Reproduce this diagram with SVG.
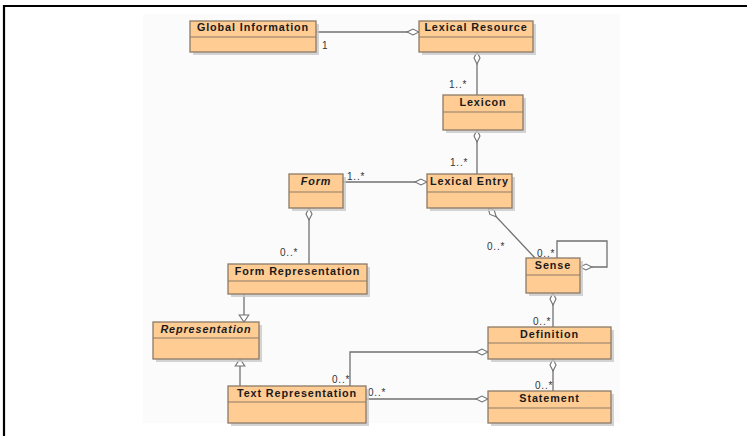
<svg xmlns="http://www.w3.org/2000/svg" width="747" height="436" viewBox="0 0 747 436">
<style>
.bg{fill:#fbfbfb}
.frame{fill:none;stroke:#000;stroke-width:2.2}
.shadow{fill:#c9c9c9;opacity:0.8}
.box{fill:#ffcc94;stroke:#8b7a66;stroke-width:1.3}
.div{stroke:#8b7a66;stroke-width:1.2}
.name{font-family:"Liberation Sans",Arial,sans-serif;font-weight:bold;font-size:10.8px;letter-spacing:0.9px;fill:#1a1a1a;text-anchor:middle}
.it{font-style:italic}
.conn path{fill:none;stroke:#707070;stroke-width:1.3}
.lbl{font-family:"Liberation Sans",Arial,sans-serif;font-size:10px;letter-spacing:0.8px;fill:#333}
</style>
<defs>
<marker id="agg" markerUnits="userSpaceOnUse" markerWidth="14" markerHeight="8" viewBox="-1 -4 14 8" refX="12" refY="0" orient="auto-start-reverse">
<path d="M0,0 L6,-3 L12,0 L6,3 Z" fill="#ffffff" stroke="#707070" stroke-width="1.1"/>
</marker>
<marker id="gen" markerUnits="userSpaceOnUse" markerWidth="11" markerHeight="12" viewBox="-1 -6 11 12" refX="7" refY="0" orient="auto">
<path d="M0,-4.8 L7,0 L0,4.8 Z" fill="#ffffff" stroke="#707070" stroke-width="1.1"/>
</marker>
</defs>
<rect class="bg" x="143" y="14" width="477" height="409"/>
<path class="frame" d="M4,436 V6 H747"/>

<g id="connectors" class="conn">
<path d="M316,32 H419" marker-end="url(#agg)"/>
<path d="M477,52 V95" marker-start="url(#agg)"/>
<path d="M477,130 V174" marker-start="url(#agg)"/>
<path d="M343,182 H427" marker-end="url(#agg)"/>
<path d="M309,208 V264" marker-start="url(#agg)"/>
<path d="M488,208 L535,258" marker-start="url(#agg)"/>
<path d="M557,258 V241 H607 V267 H580" marker-end="url(#agg)"/>
<path d="M553,293 V327" marker-start="url(#agg)"/>
<path d="M244,294 V322" marker-end="url(#gen)"/>
<path d="M240,386 V359" marker-end="url(#gen)"/>
<path d="M350,386 V352 H488" marker-end="url(#agg)"/>
<path d="M366,399 H488" marker-end="url(#agg)"/>
<path d="M553,359 V391" marker-start="url(#agg)"/>
</g>

<g id="labels">
<text class="lbl" x="322" y="49">1</text>
<text class="lbl" x="449" y="88">1..*</text>
<text class="lbl" x="450" y="166">1..*</text>
<text class="lbl" x="347" y="180">1..*</text>
<text class="lbl" x="280" y="256">0..*</text>
<text class="lbl" x="487" y="250">0..*</text>
<text class="lbl" x="537" y="257">0..*</text>
<text class="lbl" x="533" y="325">0..*</text>
<text class="lbl" x="332" y="383">0..*</text>
<text class="lbl" x="368" y="396">0..*</text>
<text class="lbl" x="535" y="389">0..*</text>
</g>

<g id="global-information">
<rect class="shadow" x="193" y="24" width="126" height="31"/>
<rect class="box" x="190" y="21" width="126" height="31"/>
<line class="div" x1="190" y1="37" x2="316" y2="37"/>
<text class="name" x="253" y="31">Global Information</text>
</g>
<g id="lexical-resource">
<rect class="shadow" x="422" y="24" width="114" height="31"/>
<rect class="box" x="419" y="21" width="114" height="31"/>
<line class="div" x1="419" y1="37" x2="533" y2="37"/>
<text class="name" x="476" y="31">Lexical Resource</text>
</g>
<g id="lexicon">
<rect class="shadow" x="446" y="98" width="80" height="35"/>
<rect class="box" x="443" y="95" width="80" height="35"/>
<line class="div" x1="443" y1="112" x2="523" y2="112"/>
<text class="name" x="483" y="106">Lexicon</text>
</g>
<g id="lexical-entry">
<rect class="shadow" x="430" y="177" width="85" height="34"/>
<rect class="box" x="427" y="174" width="85" height="34"/>
<line class="div" x1="427" y1="192" x2="512" y2="192"/>
<text class="name" x="469.5" y="185">Lexical Entry</text>
</g>
<g id="form">
<rect class="shadow" x="292" y="177" width="54" height="34"/>
<rect class="box" x="289" y="174" width="54" height="34"/>
<line class="div" x1="289" y1="192" x2="343" y2="192"/>
<text class="name it" x="316" y="185">Form</text>
</g>
<g id="form-representation">
<rect class="shadow" x="231" y="267" width="139" height="30"/>
<rect class="box" x="228" y="264" width="139" height="30"/>
<line class="div" x1="228" y1="281" x2="367" y2="281"/>
<text class="name" x="297.5" y="275">Form Representation</text>
</g>
<g id="representation">
<rect class="shadow" x="156" y="325" width="106" height="37"/>
<rect class="box" x="153" y="322" width="106" height="37"/>
<line class="div" x1="153" y1="338" x2="259" y2="338"/>
<text class="name it" x="206" y="333">Representation</text>
</g>
<g id="text-representation">
<rect class="shadow" x="231" y="389" width="138" height="37"/>
<rect class="box" x="228" y="386" width="138" height="37"/>
<line class="div" x1="228" y1="402" x2="366" y2="402"/>
<text class="name" x="297" y="397">Text Representation</text>
</g>
<g id="sense">
<rect class="shadow" x="529" y="261" width="54" height="35"/>
<rect class="box" x="526" y="258" width="54" height="35"/>
<line class="div" x1="526" y1="275" x2="580" y2="275"/>
<text class="name" x="553" y="269">Sense</text>
</g>
<g id="definition">
<rect class="shadow" x="491" y="330" width="123" height="32"/>
<rect class="box" x="488" y="327" width="123" height="32"/>
<line class="div" x1="488" y1="343" x2="611" y2="343"/>
<text class="name" x="549.5" y="338">Definition</text>
</g>
<g id="statement">
<rect class="shadow" x="491" y="394" width="123" height="32"/>
<rect class="box" x="488" y="391" width="123" height="32"/>
<line class="div" x1="488" y1="408" x2="611" y2="408"/>
<text class="name" x="549.5" y="402">Statement</text>
</g>
</svg>
